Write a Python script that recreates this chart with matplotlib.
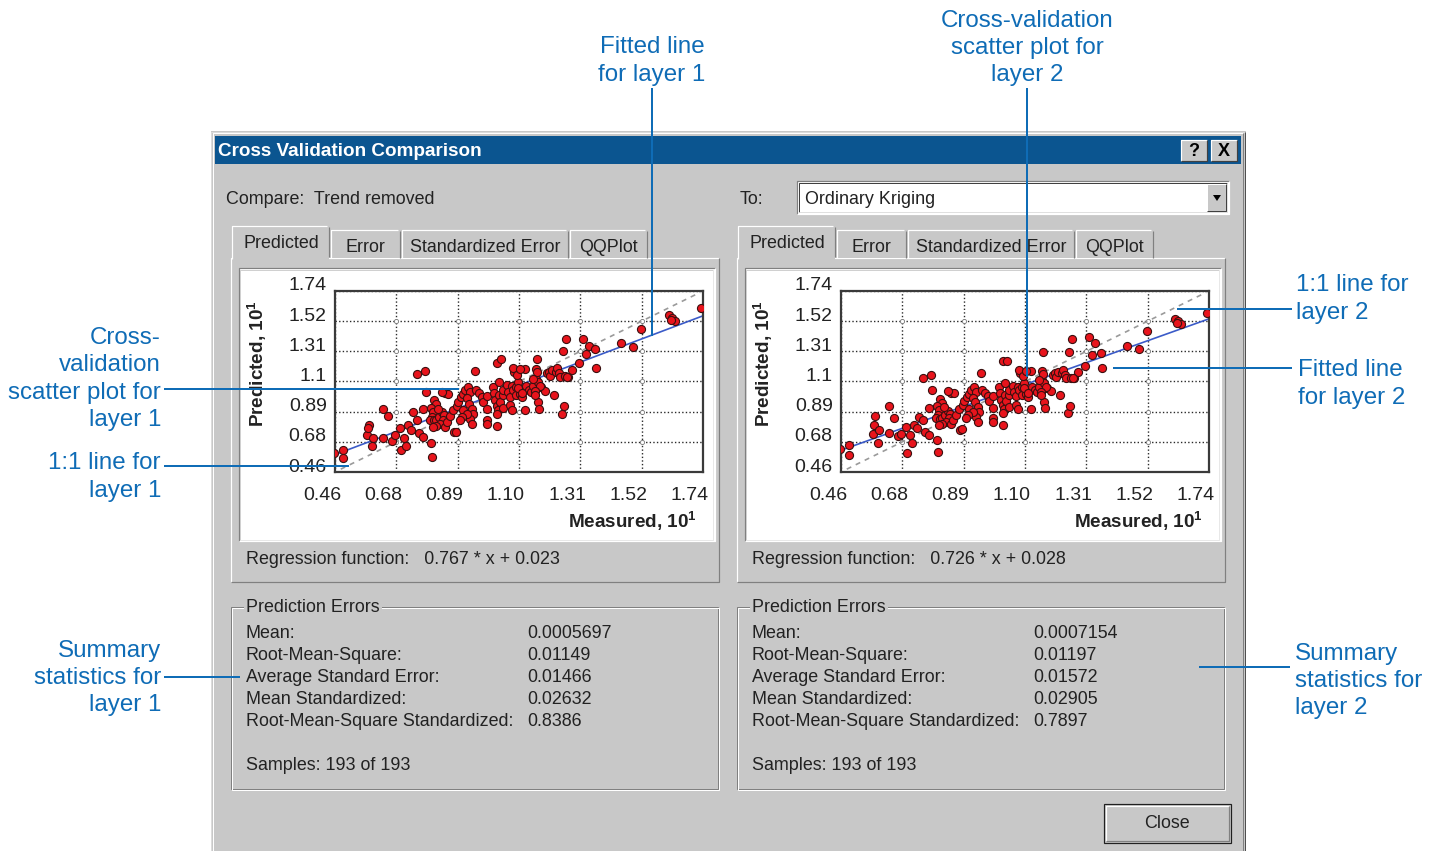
import matplotlib
matplotlib.use('Agg')
import matplotlib.pyplot as plt
from matplotlib.patches import Rectangle, Polygon
import matplotlib.transforms as mtransforms
import numpy as np

plt.rcParams['font.family'] = ['Liberation Sans', 'DejaVu Sans']
plt.rcParams['mathtext.fontset'] = 'custom'
plt.rcParams['mathtext.rm'] = 'Liberation Sans'
plt.rcParams['mathtext.bf'] = 'Liberation Sans:bold'

# ---------------- data ----------------
axis_ticks = [0.46, 0.6733, 0.8867, 1.10, 1.3133, 1.5267, 1.74]
x_tick_labels = ['0.46', '0.68', '0.89', '1.10', '1.31', '1.52', '1.74']
y_tick_labels = ['0.46', '0.68', '0.89', '1.1', '1.31', '1.52', '1.74']

measured = [
    0.457, 0.487, 0.487, 0.570, 0.579, 0.574, 0.593, 0.587, 0.626, 0.645,
    0.628, 0.657, 0.669, 0.686, 0.700, 0.688, 0.707, 0.730, 0.715, 0.723,
    0.746, 0.753, 0.765, 0.746, 0.773, 0.776, 0.765, 0.794, 0.799, 0.805,
    0.811, 0.794, 0.802, 0.796, 0.790, 0.804, 0.813, 0.823, 0.831, 0.839,
    0.834, 0.825, 0.811, 0.802, 0.842, 0.848, 0.819, 0.842, 0.854, 0.831,
    0.860, 0.874, 0.880, 0.871, 0.883, 0.889, 0.897, 0.906, 0.912, 0.923,
    0.929, 0.918, 0.927, 0.935, 0.941, 0.931, 0.938, 0.906, 0.918, 0.900,
    0.894, 0.947, 0.952, 0.962, 0.970, 0.975, 0.987, 0.989, 0.989, 0.987,
    1.022, 1.008, 1.013, 1.016, 1.022, 1.028, 1.022, 1.031, 1.033, 1.043,
    1.045, 1.045, 1.031, 1.024, 1.039, 1.057, 1.062, 1.068, 1.068, 1.074,
    1.080, 1.082, 1.080, 1.089, 1.091, 1.097, 1.094, 1.074, 1.103, 1.109,
    1.114, 1.120, 1.120, 1.126, 1.135, 1.143, 1.149, 1.158, 1.158, 1.161,
    1.167, 1.167, 1.170, 1.175, 1.190, 1.196, 1.205, 1.209, 1.216, 1.221,
    1.228, 1.233, 1.240, 1.244, 1.251, 1.256, 1.253, 1.259, 1.263, 1.271,
    1.286, 1.309, 1.321, 1.332, 1.344, 1.364, 1.369, 1.456, 1.497, 1.523,
    1.622, 1.633, 1.642, 1.627, 1.734, 1.161, 1.149, 1.172, 1.103, 1.097,
    1.109, 1.155, 1.155, 1.268,
]
predicted_layer1 = [
    0.595, 0.618, 0.559, 0.725, 0.795, 0.772, 0.701, 0.642, 0.906, 0.854,
    0.701, 0.677, 0.720, 0.772, 0.701, 0.618, 0.642, 0.883, 0.791, 0.755,
    0.826, 0.736, 0.708, 1.150, 1.173, 1.027, 0.906, 0.665, 0.566, 0.968,
    0.939, 0.916, 0.885, 0.850, 0.826, 0.826, 0.831, 0.850, 0.885, 0.862,
    0.826, 0.798, 0.784, 0.779, 0.779, 0.814, 0.909, 1.020, 1.015, 1.027,
    0.854, 0.743, 0.743, 0.897, 0.925, 0.956, 0.987, 1.010, 1.039, 1.062,
    1.027, 0.980, 0.944, 0.909, 0.873, 0.838, 0.798, 0.897, 0.873, 0.850,
    0.826, 1.176, 1.043, 1.020, 0.991, 0.956, 0.996, 0.902, 0.831, 0.798,
    0.784, 1.062, 1.020, 0.968, 0.925, 0.897, 0.869, 1.003, 0.956, 0.916,
    1.003, 1.039, 1.098, 1.228, 1.256, 1.074, 1.027, 0.991, 0.932, 1.067,
    1.039, 1.169, 1.192, 1.003, 1.062, 1.098, 1.145, 0.897, 1.015, 0.991,
    1.034, 1.185, 0.897, 1.067, 1.043, 1.027, 1.067, 1.121, 1.185, 1.256,
    1.098, 0.956, 0.909, 1.062, 1.034, 1.157, 1.169, 1.138, 1.180, 1.003,
    1.169, 1.192, 1.157, 1.133, 0.869, 0.925, 1.317, 1.138, 1.400, 1.133,
    1.180, 1.228, 1.398, 1.291, 1.350, 1.327, 1.197, 1.374, 1.341, 1.468,
    1.570, 1.546, 1.530, 1.535, 1.617, 1.166, 1.119, 1.067, 1.185, 1.055,
    1.020, 1.032, 1.008, 1.133,
]
predicted_layer2 = [
    0.623, 0.649, 0.578, 0.727, 0.854, 0.790, 0.760, 0.666, 0.930, 0.845,
    0.736, 0.712, 0.732, 0.779, 0.725, 0.594, 0.666, 0.850, 0.791, 0.770,
    0.830, 0.745, 0.725, 1.122, 1.149, 1.039, 0.915, 0.689, 0.601, 0.975,
    0.948, 0.925, 0.899, 0.866, 0.842, 0.838, 0.845, 0.862, 0.894, 0.873,
    0.840, 0.815, 0.802, 0.795, 0.797, 0.828, 0.918, 1.022, 1.018, 1.030,
    0.866, 0.760, 0.762, 0.905, 0.932, 0.962, 0.991, 1.012, 1.038, 1.058,
    1.028, 0.985, 0.952, 0.918, 0.884, 0.851, 0.814, 0.906, 0.884, 0.863,
    0.840, 1.160, 1.043, 1.022, 0.996, 0.962, 0.999, 0.912, 0.845, 0.812,
    0.795, 1.060, 1.021, 0.972, 0.931, 0.904, 0.878, 1.005, 0.961, 0.922,
    1.004, 1.038, 1.092, 1.245, 1.248, 1.071, 1.027, 0.994, 0.937, 1.064,
    1.037, 1.160, 1.180, 1.004, 1.058, 1.092, 1.136, 0.903, 1.014, 0.992,
    1.031, 1.172, 0.902, 1.062, 1.039, 1.024, 1.062, 1.113, 1.173, 1.308,
    1.091, 0.958, 0.912, 1.057, 1.030, 1.147, 1.158, 1.129, 1.168, 1.001,
    1.157, 1.180, 1.146, 1.123, 0.875, 0.928, 1.312, 1.127, 1.400, 1.122,
    1.167, 1.212, 1.412, 1.285, 1.369, 1.303, 1.197, 1.350, 1.329, 1.456,
    1.542, 1.530, 1.505, 1.512, 1.584, 1.156, 1.112, 1.062, 1.175, 1.052,
    1.019, 1.029, 1.006, 1.122,
]
reg_slope = [0.767, 0.726]
reg_intercept = [0.023, 0.028]   # in data units (axes are in units of 10^1)
reg_text = ['0.767 * x + 0.023', '0.726 * x + 0.028']

stat_labels = ['Mean:', 'Root-Mean-Square:', 'Average Standard Error:',
               'Mean Standardized:', 'Root-Mean-Square Standardized:']
stat_values_layer1 = ['0.0005697', '0.01149', '0.01466', '0.02632', '0.8386']
stat_values_layer2 = ['0.0007154', '0.01197', '0.01572', '0.02905', '0.7897']
samples_text = 'Samples: 193 of 193'
tab_labels = ['Predicted', 'Error', 'Standardized Error', 'QQPlot']

# ---------------- figure ----------------
W, H = 1429, 851
fig = plt.figure(figsize=(W / 100, H / 100), dpi=100)
fig.patch.set_facecolor('white')

bg = fig.add_axes([0, 0, 1, 1], zorder=0)
bg.set_xlim(0, W); bg.set_ylim(H, 0); bg.axis('off')

GREY = '#c8c8c8'
DARK = '#808080'
TXT = '#222222'
FS = 12.9
PX = 0.72  # points per pixel
TY = 2     # vertical text nudge (px)


def rect(ax, x0, y0, x1, y1, fc, ec='none', lw=0, z=1):
    ax.add_patch(Rectangle((x0, y0), x1 - x0, y1 - y0, fc=fc, ec=ec, lw=lw, zorder=z))


def line(ax, xs, ys, c, lw=1, z=2):
    ax.plot(xs, ys, color=c, lw=lw * PX, zorder=z, solid_capstyle='butt')


def bevel(ax, x0, y0, x1, y1, tl, br, lw=1, z=2):
    line(ax, [x0, x0, x1], [y1, y0, y0], tl, lw, z)
    line(ax, [x0, x1, x1], [y1, y1, y0], br, lw, z)


def dtext(x, y, s, **kw):
    kw.setdefault('fontsize', FS)
    kw.setdefault('color', TXT)
    kw.setdefault('va', 'center')
    kw.setdefault('zorder', 5)
    return bg.text(x, y + TY, s, **kw)


# window
rect(bg, 211, 131, 1246, 852, GREY, z=1)
bevel(bg, 211.5, 131.5, 1245.5, 860, '#dcdcdc', '#505050', 1, 2)
bevel(bg, 213, 133, 1243.5, 860, 'white', DARK, 1, 2)
rect(bg, 215, 136, 1241, 164, '#0b5590', z=2)
bg.text(218, 151, 'Cross Validation Comparison', color='white', fontsize=13.6,
        fontweight='bold', va='center', ha='left', zorder=5)
for bx0, sym in [(1181, '?'), (1211, 'X')]:
    rect(bg, bx0, 140, bx0 + 26, 161, GREY, z=3)
    bevel(bg, bx0, 140, bx0 + 26, 161, 'white', '#404040', 1.2, 4)
    bg.text(bx0 + 13, 151, sym, fontsize=13, fontweight='bold', ha='center',
            va='center', color='black', zorder=5)

dtext(226, 197, 'Compare:  Trend removed')
dtext(740, 197, 'To:')
rect(bg, 797, 181, 1229, 214, 'white', z=2)
bevel(bg, 797, 181, 1229, 214, DARK, 'white', 1.2, 3)
bevel(bg, 799, 183, 1227, 212, '#404040', '#e0e0e0', 1, 3)
dtext(805, 197, 'Ordinary Kriging')
rect(bg, 1207, 184, 1226, 211, GREY, z=3)
bevel(bg, 1207, 184, 1226, 211, 'white', '#404040', 1, 4)
bg.add_patch(Polygon([(1213, 195), (1221, 195), (1217, 201)], closed=True, fc='black',
                     ec='none', zorder=5))

tab_bounds = [(233, 329), (331, 400), (402, 568), (570, 647)]

for k, dx in enumerate([0, 506]):
    # tab panel
    rect(bg, 231 + dx, 258, 719 + dx, 582, GREY, z=2)
    bevel(bg, 231 + dx, 258, 719 + dx, 582, 'white', DARK, 1.2, 3)
    # tabs
    for i, ((tx0, tx1), lab) in enumerate(zip(tab_bounds, tab_labels)):
        if i == 0:
            continue
        rect(bg, tx0 + dx, 230, tx1 + dx, 258, GREY, z=3)
        line(bg, [tx0 + dx, tx0 + dx, tx1 + dx - 2], [258, 230, 230], 'white', 1.2, 4)
        line(bg, [tx1 + dx, tx1 + dx], [231, 258], DARK, 1.2, 4)
        dtext((tx0 + tx1) / 2 + dx, 245, lab, ha='center')
    tx0, tx1 = tab_bounds[0]
    rect(bg, tx0 + dx - 1, 226, tx1 + dx, 260, GREY, z=4)
    line(bg, [tx0 + dx - 1, tx0 + dx - 1, tx1 + dx - 2], [259, 226, 226], 'white', 1.2, 4.5)
    line(bg, [tx1 + dx, tx1 + dx], [227, 257], DARK, 1.2, 4.5)
    dtext((tx0 + tx1) / 2 + dx, 242, tab_labels[0], ha='center')
    # plot area
    rect(bg, 239 + dx, 268, 715 + dx, 541, 'white', z=3)
    bevel(bg, 239 + dx, 268, 715 + dx, 541, DARK, 'white', 1.2, 4)
    bevel(bg, 240.5 + dx, 269.5, 713.5 + dx, 539.5, '#d0d0d0', '#e8e8e8', 1, 4)
    bg.text(257 + dx, 364, r'Predicted, 10$^{\mathbf{1}}$', fontsize=13.6,
            fontweight='bold', rotation=90, ha='center', va='center', color=TXT, zorder=6)
    bg.text(697 + dx, 521, r'Measured, 10$^{\mathbf{1}}$', fontsize=13.6,
            fontweight='bold', ha='right', va='center', color=TXT, zorder=6)
    dtext(246 + dx, 558, 'Regression function:   ' + reg_text[k])
    # group box
    bg.add_patch(Rectangle((231 + dx, 607), 487, 182, fc='none', ec=DARK, lw=PX, zorder=3))
    bg.add_patch(Rectangle((232 + dx, 608), 487, 182, fc='none', ec='white', lw=PX, zorder=3))
    dtext(246 + dx, 606, 'Prediction Errors', bbox=dict(fc=GREY, ec='none', pad=1.5))
    vals = stat_values_layer1 if k == 0 else stat_values_layer2
    for j, (lab, val) in enumerate(zip(stat_labels, vals)):
        yy = [631, 653, 676, 698, 720][j]
        dtext(246 + dx, yy, lab)
        dtext(527 + dx, yy, val)
    dtext(246 + dx, 764, samples_text)

# close button
rect(bg, 1104, 804, 1231, 843, GREY, z=2)
bg.add_patch(Rectangle((1104, 804), 127, 39, fc='none', ec='#202020', lw=1.2 * PX, zorder=4))
bevel(bg, 1106, 806, 1229, 841, 'white', DARK, 1.2, 4)
dtext(1167, 822, 'Close', ha='center')

# ---------------- scatter plots ----------------
preds = [predicted_layer1, predicted_layer2]
ytrans = mtransforms.ScaledTranslation(0, 7 / 100, fig.dpi_scale_trans)
xtrans = mtransforms.ScaledTranslation(-13 / 100, 0, fig.dpi_scale_trans)
for k, dx in enumerate([0, 506]):
    x0, x1, y0, y1 = 335 + dx, 703 + dx, 291, 472
    ax = fig.add_axes([x0 / W, 1 - y1 / H, (x1 - x0) / W, (y1 - y0) / H], zorder=2)
    ax.set_facecolor('white')
    ax.set_xlim(axis_ticks[0], axis_ticks[-1])
    ax.set_ylim(axis_ticks[0], axis_ticks[-1])
    ax.set_xticks(axis_ticks)
    ax.set_yticks(axis_ticks)
    ax.set_xticklabels(x_tick_labels)
    ax.set_yticklabels(y_tick_labels)
    ax.tick_params(length=0, labelsize=14, labelcolor=TXT)
    ax.tick_params(axis='x', pad=11)
    ax.tick_params(axis='y', pad=6)
    for lbl in ax.get_yticklabels():
        lbl.set_transform(lbl.get_transform() + ytrans)
    for lbl in ax.get_xticklabels():
        lbl.set_transform(lbl.get_transform() + xtrans)
    for sp in ax.spines.values():
        sp.set_color('#3a3a3a')
        sp.set_linewidth(1.6)
    ax.grid(True, color='#2a2a2a', linestyle=(0, (1, 1.6)), lw=1.0, zorder=1)
    ax.set_axisbelow(True)
    gx, gy = np.meshgrid(axis_ticks[1:-1], axis_ticks[1:-1])
    ax.plot(gx.ravel(), gy.ravel(), 'o', ms=3, mfc='white', mec='#777777', mew=0.6,
            zorder=1.5)
    ax.plot([0.48, 1.73], [0.48, 1.73], color='#9a9a9a', ls=(0, (3, 3)), lw=1.2, zorder=2)
    fx = np.array([axis_ticks[0], axis_ticks[-1]])
    ax.plot(fx, reg_slope[k] * fx + reg_intercept[k] * 10, color='#3b5bc8', lw=1.2, zorder=2.5)
    ax.scatter(measured, preds[k], s=34, c='#e8141c', edgecolors='#3a1010',
               linewidths=0.8, zorder=3)

# ---------------- annotations ----------------
top = fig.add_axes([0, 0, 1, 1], zorder=10)
top.set_xlim(0, W); top.set_ylim(H, 0); top.axis('off'); top.patch.set_alpha(0)
BLUE = '#0f6cb6'
AFS = 17.4
notes = [
    (652, 61, 'Fitted line\nfor layer 1', 'center'),
    (1027, 48, 'Cross-validation\nscatter plot for\nlayer 2', 'center'),
    (161, 379, 'Cross-\nvalidation\nscatter plot for\nlayer 1', 'right'),
    (161, 477, '1:1 line for\nlayer 1', 'right'),
    (161, 678, 'Summary\nstatistics for\nlayer 1', 'right'),
    (1296, 299, '1:1 line for\nlayer 2', 'left'),
    (1298, 384, 'Fitted line\nfor layer 2', 'left'),
    (1295, 681, 'Summary\nstatistics for\nlayer 2', 'left'),
]
for x, y, s, ha in notes:
    top.text(x, y, s, color=BLUE, fontsize=AFS, ha=ha, va='center', multialignment=ha,
             linespacing=1.3)
leaders = [
    ([652, 652], [88, 336]),
    ([1027, 1027], [88, 377]),
    ([164, 459], [389, 389]),
    ([164, 349], [466, 466]),
    ([164, 240], [677, 677]),
    ([1177, 1292], [309, 309]),
    ([1113, 1292], [368, 368]),
    ([1199, 1290], [667, 667]),
]
for xs, ys in leaders:
    top.plot(xs, ys, color=BLUE, lw=2 * PX, solid_capstyle='butt')

fig.savefig('out.png', dpi=100, facecolor='white')
